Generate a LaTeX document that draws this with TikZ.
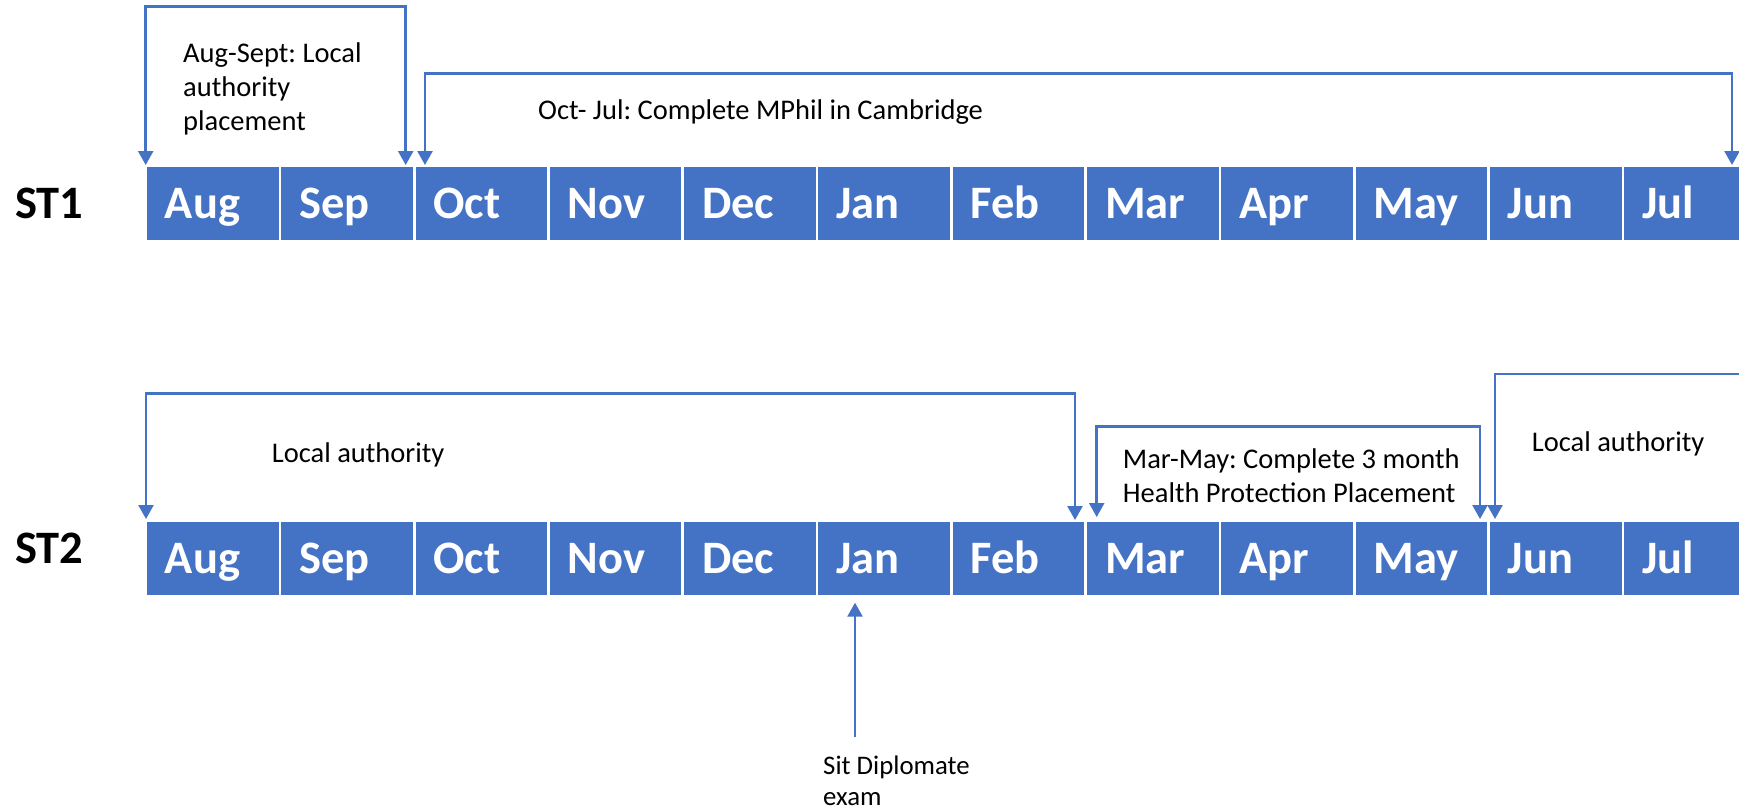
\documentclass[tikz,border=0pt]{standalone}
\usepackage{fontspec}
\setmainfont{Carlito}
\usetikzlibrary{arrows.meta}
\definecolor{obl}{HTML}{4472C4}
\frenchspacing
\begin{document}
\begin{tikzpicture}[x=1pt,y=-1pt,
  month/.style={fill=obl, draw=none, anchor=north west, minimum width=131.6pt,
    minimum height=72.6pt, inner xsep=18pt, inner ysep=0pt, text width=95.6pt,
    align=left, text=white, font=\fontsize{46.5}{50}\selectfont\bfseries,
    text height=30pt, text depth=0pt},
  rowlab/.style={anchor=base west, inner sep=0pt, font=\fontsize{46.5}{50}\selectfont\bfseries},
  note/.style={anchor=base west, inner sep=0pt, align=left, font=\fontsize{28.5}{34}\selectfont\frenchspacing},
  smallnote/.style={anchor=base west, inner sep=0pt, align=left, font=\fontsize{26.8}{31}\selectfont},
  tip/.tip={Triangle[width=15pt,length=14pt]},
  bracket/.style={draw=obl, line width=2.5pt, tip-tip},
  single/.style={draw=obl, line width=2.5pt, -tip}
]
\useasboundingbox (0,0) rectangle (1739,811);
\clip (0,0) rectangle (1739,811);
\fill[white] (0,0) rectangle (1739,811);

% month rows
\foreach \m [count=\i from 0] in {Aug,Sep,Oct,Nov,Dec,Jan,Feb,Mar,Apr,May,Jun,Jul}{
  \node[month] (r1\m) at ({146.7+\i*134.3},166.7) {\m};
  \node[month] (r2\m) at ({146.7+\i*134.3},521.7) {\m};
}
\node[rowlab] (st1) at (15,218) {ST1};
\node[rowlab] (st2) at (15,563) {ST2};

% ST1 brackets
\coordinate (a1) at (145.7,165);
\coordinate (a2) at (405.7,165);
\draw[bracket] (a1) -- (a1 |- 0,6.7) -- (a2 |- 0,6.7) -- (a2);
\node[note] (t1) at (183,130.7) {Aug-Sept: Local\\authority\\placement};

\coordinate (b1) at (425,165);
\coordinate (b2) at (1732,165);
\draw[bracket] (b1) -- (b1 |- 0,73.5) -- (b2 |- 0,73.5) -- (b2);
\node[note] (t2) at (538,119) {Oct- Jul: Complete MPhil in Cambridge};

% ST2 brackets
\coordinate (c1) at (146,519);
\coordinate (c2) at (1075,520);
\draw[bracket] (c1) -- (c1 |- 0,393.3) -- (c2 |- 0,393.3) -- (c2);
\node[note] (t3) at (271.7,462.7) {Local authority};

\coordinate (d1) at (1096.7,517);
\coordinate (d2) at (1480,519);
\draw[bracket] (d1) -- (d1 |- 0,426.5) -- (d2 |- 0,426.5) -- (d2);
\node[note] (t4) at (1122.7,502) {Mar-May: Complete 3 month\\Health Protection Placement};

\coordinate (e0) at (1800,374);
\coordinate (e1) at (1495,519);
\draw[single] (e0) -- (e1 |- e0) -- (e1);
\node[note] (t5) at (1531.7,451.7) {Local authority};

% exam arrow
\coordinate (x0) at (855,736.7);
\coordinate (x1) at (855,602.7);
\draw[single] (x0) -- (x1);
\node[smallnote] (t6) at (823,805) {Sit Diplomate\\exam};
\end{tikzpicture}
\end{document}
